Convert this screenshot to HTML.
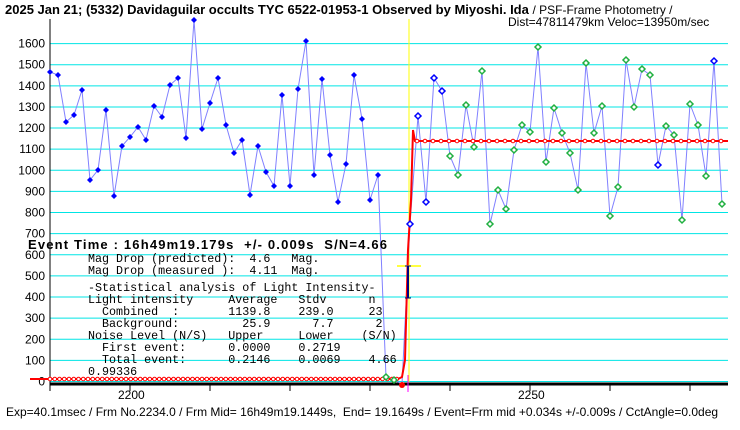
<!DOCTYPE html>
<html><head><meta charset="utf-8"><style>
body{margin:0;background:#fff;width:740px;height:425px;overflow:hidden}
svg text{font-family:"Liberation Sans","Noto Sans CJK JP",sans-serif;white-space:pre}
svg text.m{font-family:"Liberation Mono","Noto Sans CJK JP",monospace;font-size:11.7px}
</style></head><body>
<svg id="s" width="740" height="425" xmlns="http://www.w3.org/2000/svg" xml:space="preserve">
<rect width="740" height="425" fill="#fff"/>
<g id="grid"></g>
<line x1="409" y1="19" x2="409" y2="382" stroke="#ffff00" stroke-width="1"/>
<line x1="50" y1="19" x2="50" y2="384" stroke="#000" stroke-width="1"/>
<line x1="50" y1="384" x2="728" y2="384" stroke="#000" stroke-width="3"/>
<g id="ticks"></g>
<polyline id="pl" fill="none" stroke="#8080ff" stroke-width="1"/>
<g id="red"></g>
<g id="mk"></g>
<line x1="397" y1="266" x2="421" y2="266" stroke="#ffff00" stroke-width="1.5"/>
<line x1="408" y1="266" x2="408" y2="298" stroke="#000080" stroke-width="2"/>
<line x1="405" y1="298" x2="411" y2="298" stroke="#000080"/>
<line x1="405" y1="266" x2="411" y2="266" stroke="#000080"/>
<line x1="408" y1="375" x2="408" y2="392" stroke="#ff00ff"/>
<circle cx="402" cy="385" r="3" fill="#ff0000"/>
<text x="5" y="14" font-size="13" font-weight="bold">2025 Jan 21; (5332) Davidaguilar occults TYC 6522-01953-1 Observed by Miyoshi. Ida <tspan font-weight="normal" font-size="12">/ PSF-Frame Photometry /</tspan></text>
<text x="508" y="26" font-size="12">Dist=47811479km Veloc=13950m/sec</text>
<text x="28" y="249" font-size="13" font-weight="bold" textLength="359" lengthAdjust="spacing">Event Time : 16h49m19.179s  +/- 0.009s  S/N=4.66</text>
<text class="m" x="88" y="262">Mag Drop (predicted):  4.6   Mag.</text>
<text class="m" x="88" y="274">Mag Drop (measured ):  4.11  Mag.</text>
<text class="m" x="88" y="291">-Statistical analysis of Light Intensity-</text>
<text class="m" x="88" y="303">Light intensity     Average   Stdv      n</text>
<text class="m" x="88" y="315">  Combined  :       1139.8    239.0     23</text>
<text class="m" x="88" y="327">  Background:         25.9      7.7      2</text>
<text class="m" x="88" y="339">Noise Level (N/S)   Upper     Lower    (S/N)</text>
<text class="m" x="88" y="351">  First event:      0.0000    0.2719</text>
<text class="m" x="88" y="363">  Total event:      0.2146    0.0069    4.66</text>
<text class="m" x="88" y="375">0.99336</text>
<text x="118" y="399" font-size="12">2200</text>
<text x="518" y="399" font-size="12">2250</text>
<text x="6" y="416" font-size="12">Exp=40.1msec / Frm No.2234.0 / Frm Mid= 16h49m19.1449s,  End= 19.1649s / Event=Frm mid +0.034s +/-0.009s / CctAngle=0.0deg</text>
</svg>
<script>
var NS="http://www.w3.org/2000/svg";
function el(p,t,a){var e=document.createElementNS(NS,t);for(var k in a)e.setAttribute(k,a[k]);document.getElementById(p).appendChild(e);return e;}
function Y(v){return 381.5-v*0.2112;}
for(var v=0;v<=1600;v+=100){var y=Y(v);el('grid','line',{x1:50,x2:728,y1:y,y2:y,stroke:'#00e5e5','stroke-width':1});
var t=el('grid','text',{x:45,y:y+4,'font-size':12,'text-anchor':'end'});t.textContent=v;}
for(var x=50;x<=728;x+=80){el('ticks','line',{x1:x,x2:x,y1:384,y2:391,stroke:'#000'});}
var pts=[[50,72,0],[58,75,0],[66,122,0],[74,115,0],[82,90,0],[90,180,0],[98,170,0],[106,110,0],[114,196,0],[122,146,0],[130,137,0],[138,127,0],[146,140,0],[154,106,0],[162,117,0],[170,85,0],[178,78,0],[186,138,0],[194,20,0],[202,129,0],[210,103,0],[218,78,0],[226,125,0],[234,153,0],[242,140,0],[250,195,0],[258,146,0],[266,172,0],[274,186,0],[282,95,0],[290,186,0],[298,89,0],[306,41,0],[314,175,0],[322,79,0],[330,155,0],[338,202,0],[346,164,0],[354,75,0],[362,119,0],[370,200,0],[378,175,0],[386,377,2],[394,380,2],[402,384,3],[410,224,1],[418,116,1],[426,202,1],[434,78,1],[442,91,1],[450,156,2],[458,175,2],[466,105,2],[474,147,2],[482,71,2],[490,224,2],[498,190,2],[506,209,2],[514,150,2],[522,125,2],[530,132,2],[538,47,2],[546,162,2],[554,108,2],[562,133,2],[570,153,2],[578,190,2],[586,63,2],[594,133,2],[602,106,2],[610,216,2],[618,187,2],[626,60,2],[634,107,2],[642,69,2],[650,75,2],[658,165,1],[666,126,2],[674,135,2],[682,220,2],[690,104,2],[698,125,2],[706,176,2],[714,61,1],[722,204,2]];
document.getElementById('pl').setAttribute('points',pts.map(function(p){return p[0]+','+p[1]}).join(' '));
el('red','polyline',{points:'30,379 398,379 402,377 405,360 408,250 411,200 413,130 415,141 728,141',fill:'none',stroke:'#ff0000','stroke-width':2});
for(var x=50;x<400;x+=4.75)el('red','circle',{cx:x,cy:379,r:1.8,fill:'#fff',stroke:'#ff0000','stroke-width':1});
for(var x=417;x<728;x+=8)el('red','circle',{cx:x,cy:141,r:1.8,fill:'#fff',stroke:'#ff0000','stroke-width':1});
pts.forEach(function(p){var x=p[0],y=p[1];var d='M'+x+','+(y-3)+'L'+(x+3)+','+y+'L'+x+','+(y+3)+'L'+(x-3)+','+y+'Z';
if(p[2]==0)el('mk','path',{d:d,fill:'#0000ff'});
else if(p[2]==1)el('mk','path',{d:d,fill:'#fff',stroke:'#0000ff','stroke-width':1.5});
else if(p[2]==2)el('mk','path',{d:d,fill:'#fff',stroke:'#20b040','stroke-width':1.5});});
</script>
</body></html>
